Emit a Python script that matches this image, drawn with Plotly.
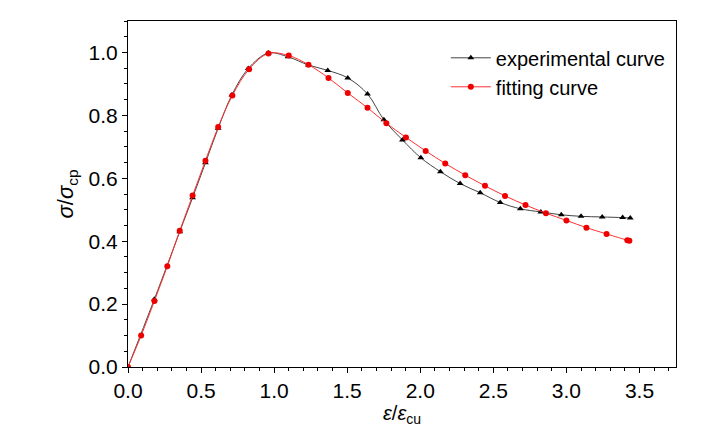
import plotly.graph_objects as go

# experimental curve
exp_x = [0, 0.18, 0.354, 0.442, 0.53, 0.617, 0.711, 0.823, 0.96, 1.095, 1.235, 1.367, 1.504,
         1.639, 1.751, 1.878, 2.004, 2.138, 2.273, 2.41, 2.547, 2.685, 2.825, 2.965, 3.10,
         3.245, 3.385, 3.437]
exp_y = [0, 0.215, 0.43, 0.538, 0.649, 0.759, 0.865, 0.949, 0.998, 0.986, 0.960, 0.943, 0.919,
         0.868, 0.786, 0.722, 0.665, 0.621, 0.583, 0.554, 0.523, 0.503, 0.493, 0.484, 0.479,
         0.477, 0.475, 0.474]

# fitting curve
fit_x = [0, 0.09, 0.181, 0.269, 0.354, 0.442, 0.53, 0.617, 0.714, 0.829, 0.961, 1.10, 1.235,
         1.372, 1.504, 1.639, 1.768, 1.902, 2.037, 2.171, 2.308, 2.443, 2.58, 2.72, 2.86, 3.0,
         3.137, 3.275, 3.417, 3.431]
fit_y = [0, 0.10, 0.21, 0.32, 0.433, 0.545, 0.656, 0.763, 0.863, 0.947, 0.997, 0.99, 0.961,
         0.919, 0.871, 0.824, 0.775, 0.73, 0.687, 0.647, 0.61, 0.576, 0.544, 0.515, 0.489,
         0.466, 0.443, 0.423, 0.403, 0.401]

fig = go.Figure()
fig.add_trace(go.Scatter(x=exp_x, y=exp_y, name='experimental curve', mode='lines+markers',
                         line=dict(color='#444444', width=1, shape='spline'),
                         marker=dict(symbol='triangle-up', size=6, color='black')))
fig.add_trace(go.Scatter(x=fit_x, y=fit_y, name='fitting curve', mode='lines+markers',
                         line=dict(color='#ff3030', width=1, shape='spline'),
                         marker=dict(symbol='circle', size=6, color='#ee0000')))

tick_font = dict(family='Liberation Sans Narrow, Liberation Sans', size=21, color='black')
axis = dict(showline=True, linecolor='black', linewidth=1.2, mirror=True, showgrid=False,
            zeroline=False, ticks='outside', ticklen=5, tickcolor='black',
            minor=dict(ticks='outside', ticklen=3, tickcolor='black'),
            tickfont=tick_font)

fig.update_xaxes(axis, range=[0, 3.75], dtick=0.5, tickformat='.1f',
                 title=dict(text='<i>ε</i>/<i>ε</i><sub>cu</sub>',
                            font=dict(family='Liberation Sans', size=20, color='black'),
                            standoff=4))
fig.update_yaxes(axis, range=[0, 1.1], dtick=0.2, tickformat='.1f',
                 title=dict(text='<i>σ</i>/<i>σ</i><sub>cp</sub>',
                            font=dict(family='Liberation Sans', size=22, color='black'),
                            standoff=8))

fig.update_layout(width=728, height=424, plot_bgcolor='white', paper_bgcolor='white',
                  margin=dict(l=120, r=60, t=13, b=63),
                  font=dict(family='Liberation Sans Narrow, Liberation Sans'),
                  legend=dict(x=0.58, y=0.95, xanchor='left', yanchor='top', bgcolor='rgba(0,0,0,0)',
                              font=dict(family='Liberation Sans Narrow, Liberation Sans', size=20,
                                        color='black'),
                              itemwidth=40, tracegroupgap=2))

fig.write_html("out.html")
